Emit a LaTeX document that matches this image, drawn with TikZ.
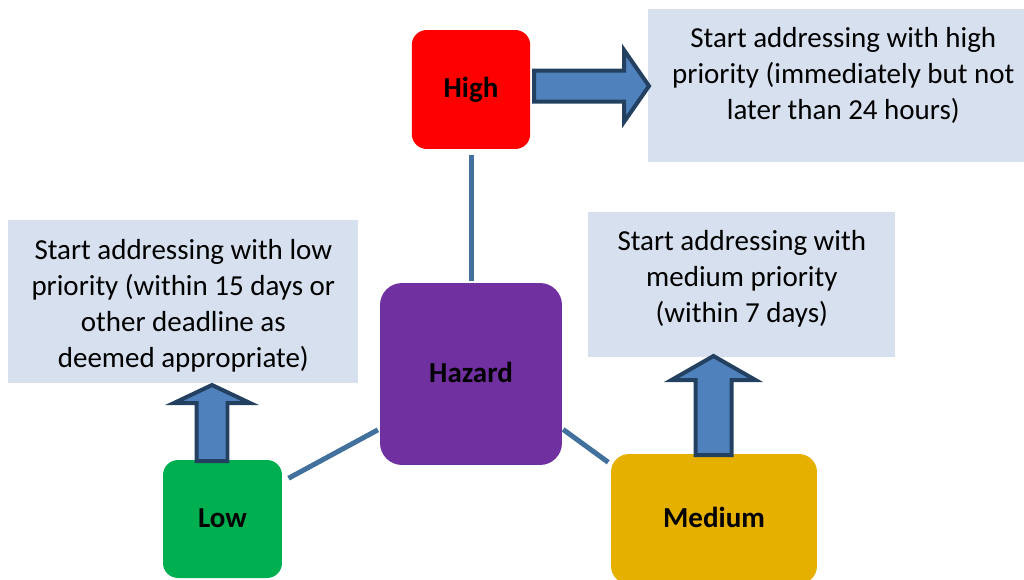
\documentclass[tikz,border=0pt]{standalone}
\usepackage{fontspec}
\setmainfont{Carlito}
\usepackage{xcolor}
\usepackage{tikz}
\usetikzlibrary{calc}

\definecolor{hired}{RGB}{255,0,0}
\definecolor{hzpurple}{RGB}{112,48,160}
\definecolor{logreen}{RGB}{0,176,80}
\definecolor{medgold}{RGB}{230,176,0}
\definecolor{notebg}{RGB}{214,224,238}
\definecolor{linkblue}{RGB}{65,113,156}
\definecolor{arrowfill}{RGB}{79,129,189}
\definecolor{arrowline}{RGB}{36,64,97}

% block arrow: #1 foot, #2 tip, #3 half body, #4 half head, #5 head length
\newcommand{\fatarrow}[5]{%
  \draw[fat] ($(#1)!#3!90:(#2)$) -- ($(#2)!#5!(#1)!#3!-90:(#1)$)
    -- ($(#2)!#5!(#1)!#4!-90:(#1)$) -- (#2)
    -- ($(#2)!#5!(#1)!#4!90:(#1)$) -- ($(#2)!#5!(#1)!#3!90:(#1)$)
    -- ($(#1)!#3!-90:(#2)$) -- cycle;}

\begin{document}
\begin{tikzpicture}[x=0.02cm,y=-0.02cm,font=\fontsize{16.5}{20.5}\selectfont,
    tile/.style={rounded corners=#1,inner sep=0pt,font=\fontsize{16.5}{20.5}\selectfont\bfseries,
      text height=12.4pt,text depth=3.3pt},
    note/.style={fill=notebg,inner sep=0pt,anchor=north west},
    link/.style={draw=linkblue,line width=0.1cm},
    fat/.style={draw=arrowline,fill=arrowfill,line width=0.08cm,line join=miter}]
  \useasboundingbox (0,0) rectangle (1024,579);
  \clip (0,0) rectangle (1024,579);
  % risk levels
  \node[tile=0.3cm,fill=hired,minimum width=2.37cm,minimum height=2.38cm] (high) at (471,89.5) {High};
  \node[tile=0.44cm,fill=hzpurple,minimum width=3.64cm,minimum height=3.64cm] (hazard) at (471,374) {Hazard};
  \node[tile=0.3cm,fill=logreen,minimum width=2.38cm,minimum height=2.36cm] (low) at (222.5,519) {Low};
  \node[tile=0.36cm,fill=medgold,minimum width=4.12cm,minimum height=2.6cm] (medium) at (714,519) {Medium};
  % what to do
  \node[note] (highnote) at (648,9) {\parbox[t][3.06cm][t]{7.8cm}{\centering\rule{0pt}{0.76cm}Start addressing with high\\
    priority (immediately but not\\ later than 24 hours)}};
  \node[note] (lownote) at (8,220) {\parbox[t][3.26cm][t]{7cm}{\centering\rule{0pt}{0.78cm}Start addressing with low\\
    priority (within 15 days or\\ other deadline as\\ deemed appropriate)}};
  \node[note] (mednote) at (588,212) {\parbox[t][2.9cm][t]{6.14cm}{\centering\rule{0pt}{0.76cm}Start addressing with\\
    medium priority\\ (within 7 days)}};
  % connectors
  \draw[link,shorten <=0.04cm,shorten >=0.12cm] (hazard.north) -- (high.south);
  \draw[link,shorten <=0.04cm,shorten >=0.14cm] (hazard.211) -- (low.32);
  \draw[link,shorten <=0.02cm,shorten >=0.06cm] (hazard.-31) -- (medium.152);
  % block arrows
  \coordinate (highfoot) at (534,86);
  \coordinate (hightip) at (649,86);
  \coordinate (lowfoot) at (212,461);
  \coordinate (lowtip) at (212,385);
  \coordinate (medfoot) at (713.5,455);
  \coordinate (medtip) at (713.5,356);
  \foreach \a/\b/\bw/\hw/\hl in {highfoot/hightip/0.31cm/0.72cm/0.5cm,
      lowfoot/lowtip/0.31cm/0.76cm/0.36cm, medfoot/medtip/0.36cm/0.84cm/0.48cm}
    \fatarrow{\a}{\b}{\bw}{\hw}{\hl};
\end{tikzpicture}
\end{document}
